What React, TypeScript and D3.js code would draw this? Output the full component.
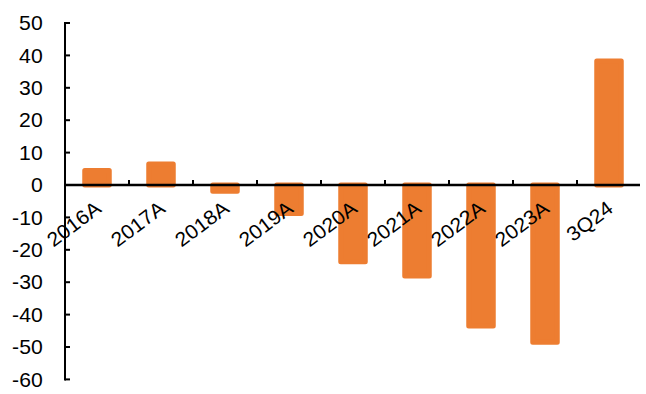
import React from "react";
import * as d3 from "d3";

const categories = ["2016A", "2017A", "2018A", "2019A", "2020A", "2021A", "2022A", "2023A", "3Q24"];
const values = [4.5, 6.5, -1.9, -8.8, -23.7, -28.1, -43.5, -48.5, 38.3];
const yTicks = [50, 40, 30, 20, 10, 0, -10, -20, -30, -40, -50, -60];

const W = 646;
const H = 394;
const COLOR = "#ED7D31";
const FONT = "'Liberation Sans', Arial, sans-serif";
const FS = 20;
const STRETCH = 1.06;

export default function App() {
  const x = d3.scaleBand<string>().domain(categories).range([65, 641]).padding(0);
  const y = d3.scaleLinear().domain([-60, 50]).range([379.4, 23]);
  const stroke = 5;
  const barW = 24.5;
  const y0 = y(0);

  return (
    <svg
      width={W}
      height={H}
      style={{ position: "absolute", left: 0, top: 0, display: "block", background: "#fff" }}
    >
      {/* bars */}
      {categories.map((c, i) => {
        const v = values[i];
        const cx = (x(c) as number) + x.bandwidth() / 2;
        const top = Math.min(y(v), y0);
        const h = Math.abs(y(v) - y0);
        return (
          <rect
            key={c}
            x={cx - barW / 2}
            y={top}
            width={barW}
            height={h}
            fill={COLOR}
            stroke={COLOR}
            strokeWidth={stroke}
            strokeLinejoin="round"
          />
        );
      })}

      {/* y axis */}
      <line x1={65} x2={65} y1={y(50) - 1} y2={y(-60) + 1} stroke="#000" strokeWidth={2} />
      {yTicks.map((t) => (
        <g key={t}>
          <line x1={65} x2={70} y1={y(t)} y2={y(t)} stroke="#000" strokeWidth={2} />
          <text
            transform={`translate(42.7,${y(t)}) scale(${STRETCH},1)`}
            textAnchor="end"
            dominantBaseline="central"
            fontFamily={FONT}
            fontSize={FS}
            fill="#000"
          >
            {t}
          </text>
        </g>
      ))}

      {/* x axis */}
      <line x1={64} x2={640} y1={y0} y2={y0} stroke="#000" strokeWidth={2.5} />
      {categories.slice(1).map((c) => (
        <line
          key={"t" + c}
          x1={x(c) as number}
          x2={x(c) as number}
          y1={y0}
          y2={y0 - 5}
          stroke="#000"
          strokeWidth={2}
        />
      ))}
      {categories.map((c) => {
        const cx = (x(c) as number) + x.bandwidth() / 2;
        return (
          <text
            key={"l" + c}
            transform={`translate(${cx + 5.5},${211}) rotate(-37) scale(${STRETCH},1)`}
            textAnchor="end"
            fontFamily={FONT}
            fontSize={FS}
            fill="#000"
          >
            {c}
          </text>
        );
      })}
    </svg>
  );
}
